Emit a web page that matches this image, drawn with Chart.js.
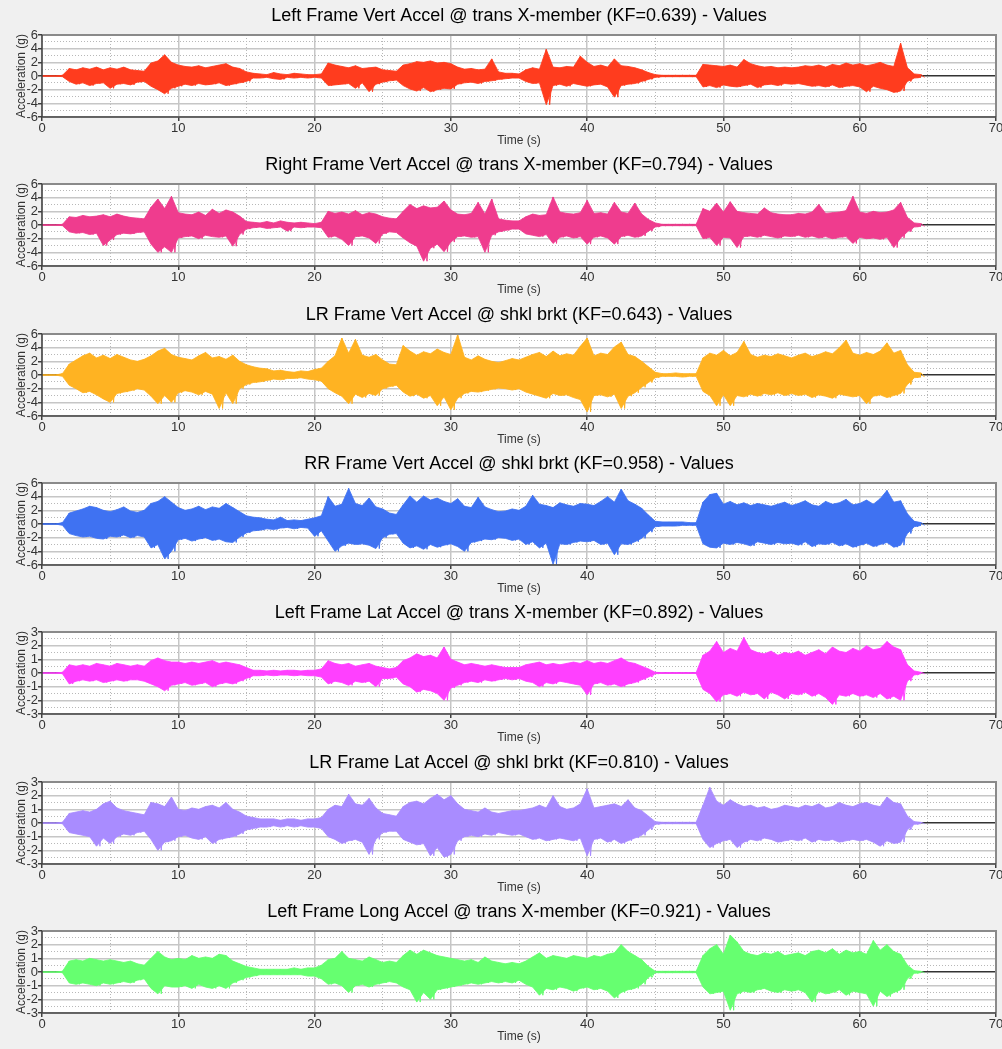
<!DOCTYPE html>
<html>
<head>
<meta charset="utf-8">
<script src="https://cdn.jsdelivr.net/npm/chart.js@4.4.1/dist/chart.umd.min.js"></script>
<style>
  html, body { margin: 0; padding: 0; background: #f0f0f0; overflow: hidden; }
  #panels { position: relative; width: 1002px; height: 1049px; }
  .panel { position: absolute; left: 0; width: 1002px; height: 150px; }
  .panel canvas { display: block; }
</style>
</head>
<body>
<div id="panels"></div>
<script>
// Peak readings every 0.5 s from t = 0: max (hi) and min (lo) of each window, in g
const STEP = 0.5;

const lfVertHi = [
  0, 0, 0, 0.1, 1.1, 0.9, 1.2, 1.0, 1.3, 0.9,
  1.2, 1.0, 1.3, 0.9, 0.8, 0.7, 1.9, 2.2, 3.1, 2.0,
  1.6, 1.4, 1.3, 1.5, 1.2, 1.4, 1.6, 1.8, 1.3, 1.1,
  0.6, 0.4, 0.3, 0.2, 0.5, 0.3, 0.2, 0.4, 0.3, 0.2,
  0.2, 0.3, 1.9, 1.6, 1.4, 1.2, 1.5, 1.1, 1.2, 1.3,
  0.9, 0.8, 0.7, 1.6, 1.8, 2.1, 2.0, 2.2, 1.9, 2.0,
  1.8, 1.3, 1.0, 1.1, 0.9, 1.0, 2.5, 0.6, 0.4, 0.4,
  0.3, 0.9, 1.2, 1.0, 3.9, 1.3, 1.2, 1.4, 1.3, 2.9,
  2.0, 1.4, 1.6, 1.3, 2.5, 1.5, 1.4, 1.2, 0.9, 0.5,
  0.2, 0.1, 0.1, 0.1, 0.1, 0.1, 0.1, 1.7, 1.6, 1.5,
  1.4, 1.6, 1.3, 2.4, 1.8, 1.5, 1.3, 1.4, 1.2, 1.3,
  1.2, 1.3, 1.5, 1.4, 1.6, 1.3, 1.7, 1.5, 1.9, 1.6,
  1.8, 1.5, 1.7, 2.0, 1.6, 1.4, 4.8, 1.2, 0.3, 0.2
];
const lfVertLo = [
  0, 0, 0, -0.1, -0.8, -1.2, -1.0, -1.4, -1.1, -1.0,
  -1.8, -1.2, -1.1, -1.3, -0.9, -0.8, -1.5, -2.0, -2.6, -1.8,
  -1.5, -1.2, -1.4, -1.1, -1.3, -1.2, -1.0, -1.4, -1.2, -1.0,
  -0.8, -0.3, -0.3, -0.2, -0.4, -0.5, -0.2, -0.3, -0.2, -0.3,
  -0.2, -0.3, -1.4, -1.3, -1.2, -1.1, -1.8, -1.0, -2.3, -1.2,
  -0.9, -0.7, -0.6, -1.4, -1.9, -2.2, -1.7, -2.3, -2.0, -1.8,
  -1.9, -1.2, -1.0, -0.9, -1.1, -0.8, -0.7, -0.5, -0.4, -0.3,
  -0.3, -0.8, -1.1, -1.0, -4.2, -1.4, -1.2, -1.5, -1.1, -1.3,
  -1.5, -1.3, -1.2, -1.6, -3.1, -1.4, -1.2, -1.1, -0.8, -0.5,
  -0.2, -0.1, -0.1, -0.1, -0.1, -0.1, -0.1, -1.6, -1.4, -1.7,
  -1.3, -1.5, -1.6, -1.4, -1.2, -1.7, -1.3, -1.2, -1.4, -1.1,
  -1.2, -1.1, -1.3, -1.5, -1.4, -1.6, -1.3, -1.7, -1.5, -1.4,
  -1.6, -2.3, -1.5, -1.8, -2.0, -2.4, -2.2, -0.8, -0.3, -0.2
];

const rfVertHi = [
  0, 0, 0, 0.1, 1.2, 1.1, 1.4, 1.2, 1.3, 1.5,
  1.2, 1.6, 1.3, 1.1, 1.0, 0.9, 2.6, 3.8, 2.4, 4.2,
  1.8, 1.6, 1.5, 1.9, 1.4, 2.3, 1.7, 2.2, 1.9, 1.3,
  0.5, 0.4, 0.3, 0.5, 0.3, 0.6, 0.4, 0.3, 0.4, 0.3,
  0.2, 0.4, 2.0, 1.7, 1.9, 1.6, 2.1, 1.5, 1.8, 1.6,
  1.2, 1.0, 0.9, 2.0, 3.0, 2.4, 2.8, 2.5, 2.6, 3.5,
  2.2, 1.6, 1.5, 1.7, 3.3, 1.6, 3.8, 0.9, 0.7, 0.6,
  0.6, 1.2, 1.6, 1.4, 1.5, 4.1, 1.9, 1.7, 1.6, 1.8,
  3.6, 1.7, 1.8, 1.6, 3.3, 1.9, 1.7, 3.2, 1.6, 0.8,
  0.3, 0.1, 0.1, 0.1, 0.1, 0.1, 0.1, 2.4, 2.0, 3.2,
  1.9, 3.4, 2.0, 1.8, 1.7, 1.6, 2.5, 1.8, 1.6, 1.5,
  1.5, 1.7, 1.6, 1.9, 3.0, 1.7, 1.8, 1.9, 2.1, 4.2,
  1.9, 1.7, 2.0, 1.8, 1.9, 2.2, 3.3, 1.1, 0.3, 0.2
];
const rfVertLo = [
  0, 0, 0, -0.1, -1.0, -1.2, -1.1, -1.4, -1.2, -3.0,
  -2.2, -1.4, -1.2, -1.3, -1.1, -1.0, -2.8, -4.0, -3.2, -4.0,
  -1.9, -1.7, -1.6, -2.0, -1.5, -1.7, -1.8, -1.6, -3.1, -1.4,
  -0.6, -0.4, -0.3, -0.5, -0.4, -0.3, -0.9, -0.3, -0.4, -0.3,
  -0.3, -0.4, -1.8, -1.6, -2.1, -3.0, -1.7, -1.6, -1.9, -2.7,
  -1.3, -1.0, -1.1, -1.9, -2.6, -3.1, -5.3, -3.4, -2.8, -3.9,
  -2.5, -1.7, -1.6, -1.8, -1.7, -4.0, -1.5, -1.0, -0.8, -0.6,
  -0.6, -1.3, -1.5, -1.7, -1.4, -2.7, -1.8, -1.6, -1.9, -1.7,
  -2.8, -1.8, -1.6, -1.9, -2.8, -1.7, -1.5, -1.8, -1.6, -0.9,
  -0.3, -0.1, -0.1, -0.1, -0.1, -0.1, -0.1, -2.0, -1.8, -3.0,
  -1.8, -1.9, -3.3, -1.7, -1.6, -1.8, -1.5, -1.7, -1.9, -1.6,
  -1.7, -1.5, -1.8, -1.6, -1.9, -1.7, -2.0, -1.8, -1.7, -2.7,
  -1.8, -2.0, -1.9, -2.1, -1.8, -3.3, -1.9, -1.0, -0.3, -0.2
];

const lrVertHi = [
  0, 0, 0, 0.2, 1.6, 2.2, 2.8, 3.2, 2.5, 2.9,
  2.4, 3.0, 2.6, 2.2, 2.0, 2.3, 2.8, 3.5, 3.9, 3.0,
  2.6, 2.4, 2.2, 2.8, 3.3, 2.5, 2.7, 2.3, 2.9, 2.0,
  1.5, 1.2, 1.0, 0.9, 0.6, 0.7, 0.5, 0.4, 0.6, 0.5,
  0.8, 1.0, 2.0, 2.8, 5.4, 3.2, 5.2, 2.9, 2.6, 3.0,
  2.2, 1.6, 1.5, 4.3, 3.5, 2.9, 3.4, 3.1, 3.8, 3.3,
  3.0, 5.9, 2.6, 2.2, 2.8, 2.3, 2.0, 1.8, 2.1, 2.4,
  2.2, 2.6, 3.0, 3.3, 2.7, 3.5, 2.8, 3.1, 2.9, 4.2,
  5.4, 2.8, 3.2, 3.0, 4.1, 4.8, 3.0, 2.7, 2.0, 1.2,
  0.4, 0.2, 0.2, 0.3, 0.2, 0.2, 0.2, 2.5, 3.2, 2.9,
  3.6, 2.8, 3.3, 4.9, 3.0, 2.6, 2.9, 2.7, 3.1, 2.8,
  2.5, 2.9, 3.2, 2.7, 3.0, 3.4, 3.1, 4.0, 5.1, 3.2,
  2.9, 3.3, 3.0, 3.5, 4.7, 3.2, 3.6, 1.5, 0.4, 0.3
];
const lrVertLo = [
  0, 0, 0, -0.2, -1.5, -2.0, -2.6, -2.4, -2.9, -3.5,
  -4.0, -2.7, -2.5, -2.3, -2.0, -2.2, -3.1, -4.2, -3.0, -4.0,
  -2.6, -2.3, -2.5, -2.9, -2.4, -2.8, -4.9, -2.6, -4.2, -2.0,
  -1.4, -1.1, -1.0, -0.8, -0.6, -0.7, -0.5, -0.5, -0.4, -0.6,
  -0.7, -0.9, -2.0, -2.6, -3.1, -4.2, -2.8, -3.3, -2.7, -3.0,
  -2.0, -1.7, -1.5, -2.5, -3.1, -2.8, -3.4, -3.0, -4.5, -3.2,
  -5.1, -3.4, -2.7, -2.4, -2.5, -2.3, -2.1, -1.9, -2.0, -2.2,
  -2.0, -2.5, -2.8, -3.1, -3.4, -2.7, -3.0, -2.9, -3.3, -3.6,
  -5.4, -3.0, -2.9, -3.2, -2.8, -4.9, -3.1, -2.6, -1.8, -1.1,
  -0.4, -0.2, -0.2, -0.2, -0.3, -0.2, -0.2, -2.4, -3.0, -4.5,
  -2.9, -4.5, -3.0, -3.2, -2.8, -3.1, -2.7, -2.9, -2.6, -3.0,
  -2.7, -3.0, -2.8, -3.3, -2.9, -3.1, -3.4, -2.8, -3.0, -3.2,
  -3.0, -4.2, -3.1, -2.9, -3.3, -3.0, -2.7, -1.4, -0.4, -0.3
];

const rrVertHi = [
  0, 0, 0, 0.2, 1.6, 1.9, 2.2, 2.6, 2.4, 2.0,
  1.8, 2.1, 2.5, 1.9, 1.7, 2.0, 3.0, 3.3, 4.0, 3.2,
  2.4, 2.0, 2.2, 2.6, 2.1, 2.5, 2.3, 3.0, 2.4, 1.8,
  1.2, 1.0, 0.9, 0.7, 0.6, 1.0, 0.5, 0.6, 0.5, 0.7,
  0.9, 1.2, 4.0, 2.6, 2.9, 5.2, 3.0, 2.7, 3.8, 2.5,
  2.2, 1.6, 1.4, 2.8, 4.1, 3.2, 4.1, 3.5, 3.8, 3.3,
  3.0, 3.7, 2.6, 2.4, 3.9, 2.5, 2.1, 1.8, 1.9, 2.2,
  2.0, 2.6, 4.2, 2.9, 2.7, 2.4, 3.1, 2.8, 2.6, 3.0,
  2.9, 2.7, 3.3, 4.0, 3.2, 5.1, 3.4, 2.9, 2.3, 1.3,
  0.4, 0.3, 0.3, 0.3, 0.3, 0.2, 0.2, 3.2, 4.3, 4.5,
  2.9, 3.3, 2.8, 3.1, 2.7, 3.0, 2.8, 2.6, 2.9, 3.2,
  2.7, 3.0, 3.4, 2.8, 2.6, 3.3, 2.9, 3.1, 3.6, 2.8,
  3.0, 3.5, 2.9, 3.7, 4.9, 3.2, 3.4, 1.5, 0.4, 0.2
];
const rrVertLo = [
  0, 0, 0, -0.2, -1.4, -1.7, -1.9, -1.8, -2.1, -2.2,
  -1.8, -1.9, -1.6, -2.0, -1.7, -1.9, -3.5, -3.0, -5.1, -4.0,
  -2.3, -2.1, -2.5, -2.2, -2.0, -2.4, -2.2, -2.6, -2.7, -1.9,
  -1.3, -1.0, -0.9, -0.7, -0.8, -0.6, -0.5, -0.7, -0.5, -0.6,
  -1.8, -1.0, -2.5, -4.0, -3.2, -2.8, -3.0, -2.9, -3.1, -3.6,
  -2.0, -1.5, -1.4, -2.8, -3.5, -3.2, -3.7, -3.0, -3.4, -3.1,
  -2.9, -3.3, -4.0, -2.7, -2.5, -2.2, -2.3, -2.0, -2.1, -2.4,
  -2.2, -3.0, -2.6, -3.5, -2.8, -5.9, -2.9, -3.0, -2.7, -2.5,
  -2.6, -2.4, -3.0, -2.8, -4.5, -2.9, -3.0, -2.6, -2.1, -1.2,
  -0.4, -0.3, -0.3, -0.3, -0.2, -0.2, -0.2, -2.9, -3.4, -3.5,
  -2.8, -3.0, -2.7, -2.9, -3.2, -2.6, -2.8, -3.0, -2.7, -2.9,
  -2.8, -3.1, -2.6, -3.3, -2.9, -3.0, -2.7, -3.2, -2.9, -3.4,
  -3.1, -2.8, -3.3, -3.0, -2.7, -3.4, -3.1, -1.4, -0.4, -0.2
];

const lfLatHi = [
  0, 0, 0, 0.05, 0.6, 0.5, 0.6, 0.5, 0.7, 0.6,
  0.5, 0.7, 0.6, 0.5, 0.6, 0.5, 0.9, 1.1, 0.9, 0.8,
  0.8, 0.7, 0.8, 0.7, 0.8, 0.9, 0.7, 0.8, 0.7, 0.6,
  0.4, 0.2, 0.2, 0.15, 0.2, 0.15, 0.2, 0.2, 0.15, 0.2,
  0.2, 0.3, 0.9, 0.7, 0.6, 0.7, 0.5, 0.6, 0.7, 0.5,
  0.4, 0.3, 0.4, 0.9, 1.1, 1.4, 1.2, 1.3, 1.1, 1.9,
  1.0, 0.8, 0.6, 0.7, 0.6, 0.5, 0.6, 0.5, 0.4, 0.4,
  0.4, 0.6, 0.7, 0.8, 0.6, 0.7, 0.6, 0.7, 0.8, 0.7,
  0.9, 0.7, 0.8, 0.7, 0.9, 1.1, 0.8, 0.7, 0.5, 0.3,
  0.05, 0.03, 0.03, 0.03, 0.03, 0.03, 0.03, 1.3, 1.6, 2.3,
  1.5, 1.8, 1.6, 2.6, 1.7, 1.5, 1.4, 1.6, 1.3, 1.5,
  1.4, 1.6, 1.3, 1.5, 1.7, 1.4, 1.9, 1.6, 1.5, 1.8,
  1.6, 2.0, 1.7, 1.8, 2.3, 1.9, 1.7, 0.6, 0.15, 0.05
];
const lfLatLo = [
  0, 0, 0, -0.05, -0.8, -0.6, -0.5, -0.6, -0.5, -0.7,
  -0.6, -0.5, -0.6, -0.5, -0.5, -0.6, -0.8, -1.0, -1.3, -0.9,
  -0.8, -0.7, -0.9, -0.8, -0.7, -1.0, -0.8, -0.7, -0.8, -0.6,
  -0.4, -0.2, -0.2, -0.15, -0.2, -0.15, -0.15, -0.2, -0.15, -0.2,
  -0.2, -0.3, -0.8, -0.6, -0.7, -0.9, -0.6, -0.7, -0.6, -1.0,
  -0.4, -0.4, -0.3, -0.8, -1.0, -1.4, -1.2, -1.3, -1.5, -2.0,
  -1.1, -0.9, -0.7, -0.6, -0.7, -0.5, -0.6, -0.5, -0.4, -0.5,
  -0.4, -0.6, -0.7, -1.0, -0.7, -0.8, -0.6, -0.7, -0.8, -0.9,
  -1.6, -0.8, -0.7, -0.9, -0.8, -1.0, -0.8, -0.7, -0.5, -0.3,
  -0.05, -0.03, -0.03, -0.03, -0.03, -0.03, -0.03, -1.2, -1.5, -2.1,
  -1.6, -1.5, -1.7, -1.4, -1.6, -1.5, -1.9, -1.4, -1.6, -1.9,
  -1.5, -1.6, -1.4, -1.7, -1.5, -1.8, -2.3, -1.6, -1.7, -1.5,
  -1.7, -1.6, -1.8, -1.5, -1.9, -1.7, -2.0, -0.6, -0.15, -0.05
];

const lrLatHi = [
  0, 0, 0, 0.05, 0.7, 0.8, 0.9, 0.8, 1.0, 1.4,
  1.6, 1.1, 0.9, 0.8, 0.7, 0.6, 1.5, 1.4, 1.2, 1.9,
  1.0, 0.9, 1.1, 1.0, 1.2, 1.3, 1.1, 1.5, 1.0, 0.8,
  0.5, 0.4, 0.3, 0.3, 0.3, 0.2, 0.3, 0.3, 0.2, 0.3,
  0.3, 0.4, 1.0, 1.3, 1.2, 2.1, 1.4, 1.3, 1.8, 1.1,
  0.7, 0.6, 0.5, 1.2, 1.5, 1.6, 1.4, 1.8, 2.1, 1.7,
  2.0, 1.4, 1.0, 0.9, 0.8, 1.1, 0.8, 0.7, 0.8, 0.9,
  0.9, 1.0, 1.1, 1.3, 1.1, 2.0, 1.2, 1.0, 1.1, 1.4,
  2.5, 1.1, 1.2, 1.3, 1.4, 1.2, 1.7, 1.1, 0.9, 0.5,
  0.1, 0.05, 0.05, 0.05, 0.05, 0.05, 0.05, 1.3, 2.6, 1.6,
  1.3, 1.7, 1.4, 1.2, 1.3, 1.1, 1.2, 1.0, 1.1, 1.3,
  1.2, 1.1, 1.3, 1.2, 1.4, 1.1, 1.2, 1.5, 1.3, 1.2,
  1.4, 1.5, 1.3, 1.2, 1.9, 1.5, 1.4, 0.5, 0.1, 0.05
];
const lrLatLo = [
  0, 0, 0, -0.05, -0.7, -0.8, -0.9, -1.0, -1.7, -1.1,
  -1.5, -1.0, -0.8, -0.9, -0.7, -0.6, -1.2, -2.0, -1.4, -1.3,
  -1.0, -0.9, -1.1, -1.2, -1.0, -1.5, -1.2, -1.1, -1.0, -0.8,
  -0.5, -0.4, -0.3, -0.3, -0.2, -0.3, -0.2, -0.3, -0.2, -0.3,
  -0.3, -0.4, -1.0, -1.2, -1.5, -1.3, -1.2, -1.4, -2.3, -1.2,
  -0.7, -0.6, -0.6, -1.2, -1.4, -1.6, -1.5, -2.4, -1.8, -2.5,
  -2.3, -1.3, -1.0, -0.9, -1.0, -0.8, -0.9, -0.7, -0.8, -0.9,
  -0.8, -1.0, -1.2, -1.1, -1.3, -1.2, -1.1, -1.2, -1.3, -1.1,
  -2.4, -1.2, -1.1, -1.4, -1.2, -1.5, -1.3, -1.1, -0.9, -0.5,
  -0.1, -0.05, -0.05, -0.05, -0.05, -0.05, -0.05, -1.2, -1.8, -1.5,
  -1.3, -1.2, -1.8, -1.4, -1.2, -1.3, -1.1, -1.2, -1.4, -1.3,
  -1.2, -1.3, -1.1, -1.4, -1.2, -1.3, -1.2, -1.4, -1.3, -1.2,
  -1.3, -1.2, -1.4, -1.7, -1.3, -1.5, -1.4, -0.5, -0.1, -0.05
];

const lfLongHi = [
  0, 0, 0, 0.05, 0.8, 0.9, 0.8, 1.0, 0.9, 0.8,
  0.9, 0.8, 0.7, 0.8, 0.6, 0.5, 1.0, 1.5, 1.1, 0.9,
  1.0, 0.9, 1.2, 1.0, 1.1, 1.0, 1.3, 1.2, 0.8, 0.6,
  0.4, 0.3, 0.2, 0.2, 0.2, 0.2, 0.2, 0.3, 0.2, 0.3,
  0.3, 0.5, 0.9, 1.0, 1.5, 1.0, 0.9, 0.8, 1.1, 0.9,
  0.7, 0.8, 0.7, 1.2, 1.6, 1.3, 1.6, 1.4, 1.2, 1.1,
  1.0, 0.9, 0.8, 0.9, 0.7, 1.1, 0.8, 0.7, 0.6, 0.7,
  0.6, 0.8, 1.1, 1.4, 1.0, 1.2, 1.1, 1.0, 1.2, 1.1,
  1.0, 1.2, 1.1, 1.3, 1.4, 2.0, 1.5, 1.2, 0.9, 0.4,
  0.05, 0.05, 0.05, 0.05, 0.05, 0.05, 0.05, 1.2, 1.7, 2.0,
  1.3, 2.7, 2.2, 1.5, 1.3, 1.2, 1.4, 1.3, 1.5, 1.2,
  1.3, 1.4, 1.2, 1.5, 1.6, 1.4, 1.7, 1.3, 1.6, 1.4,
  1.5, 1.3, 2.3, 1.6, 2.0, 1.5, 1.3, 0.5, 0.1, 0.05
];
const lfLongLo = [
  0, 0, 0, -0.05, -0.8, -0.9, -0.8, -0.9, -1.0, -0.8,
  -0.9, -0.8, -0.7, -0.8, -0.6, -0.5, -1.2, -1.6, -1.0, -1.1,
  -1.1, -1.0, -1.2, -0.9, -1.1, -1.2, -1.0, -1.2, -0.8, -0.6,
  -0.4, -0.3, -0.2, -0.2, -0.2, -0.2, -0.2, -0.2, -0.2, -0.3,
  -0.3, -0.5, -0.9, -0.8, -1.0, -1.5, -1.0, -0.9, -1.1, -0.9,
  -0.8, -0.7, -0.8, -1.1, -1.3, -2.2, -1.5, -2.0, -1.3, -1.2,
  -1.1, -1.0, -0.9, -0.8, -0.9, -0.8, -0.7, -0.8, -0.7, -0.8,
  -0.6, -0.9, -1.1, -1.7, -1.2, -1.3, -1.1, -1.2, -1.4, -1.2,
  -1.1, -1.3, -1.2, -1.4, -1.9, -1.5, -1.3, -1.2, -0.9, -0.4,
  -0.05, -0.05, -0.05, -0.05, -0.05, -0.05, -0.05, -1.1, -1.6, -1.5,
  -1.4, -2.8, -1.6, -1.4, -1.5, -1.3, -1.2, -1.4, -1.5, -1.3,
  -1.4, -1.3, -1.5, -2.2, -1.4, -1.6, -1.5, -1.3, -1.7, -1.4,
  -1.5, -1.6, -2.5, -1.4, -1.8, -1.5, -1.3, -0.5, -0.1, -0.05
];

const titles = [
  "Left Frame Vert Accel @ trans X-member (KF=0.639) - Values",
  "Right Frame Vert Accel @ trans X-member (KF=0.794) - Values",
  "LR Frame Vert Accel @ shkl brkt (KF=0.643) - Values",
  "RR Frame Vert Accel @ shkl brkt (KF=0.958) - Values",
  "Left Frame Lat Accel @ trans X-member (KF=0.892) - Values",
  "LR Frame Lat Accel @ shkl brkt (KF=0.810) - Values",
  "Left Frame Long Accel @ trans X-member (KF=0.921) - Values"
];
const colors = ["#ff3c1e", "#ef3c8e", "#ffb322", "#3f72f2", "#ff40ff", "#a98cff", "#66ff70"];
const yLimits = [6, 6, 6, 6, 3, 3, 3];
const highs = [lfVertHi, rfVertHi, lrVertHi, rrVertHi, lfLatHi, lrLatHi, lfLongHi];
const lows = [lfVertLo, rfVertLo, lrVertLo, rrVertLo, lfLatLo, lrLatLo, lfLongLo];

const FONT = "'Liberation Sans', Arial, sans-serif";

// one point per reading, all at the window start
function toPoints(vals) {
  return vals.map((v, i) => ({ x: i * STEP, y: v }));
}

// alternate max/min readings so the trace swings like the raw signal
function zigzag(hi, lo) {
  const pts = [];
  for (let i = 0; i < hi.length; i++) {
    pts.push({ x: i * STEP, y: hi[i] });
    pts.push({ x: i * STEP + STEP / 2, y: lo[i] });
  }
  return pts;
}

function withAlpha(hex, a) {
  const n = parseInt(hex.slice(1), 16);
  return `rgba(${(n >> 16) & 255}, ${(n >> 8) & 255}, ${n & 255}, ${a})`;
}

// white plot area and the dark frame round it
const framePlugin = {
  id: "frame",
  beforeDraw(chart) {
    const { ctx, chartArea: a } = chart;
    ctx.save();
    ctx.fillStyle = "#ffffff";
    ctx.fillRect(a.left, a.top, a.right - a.left, a.bottom - a.top);
    ctx.restore();
  },
  afterDraw(chart) {
    const { ctx, chartArea: a } = chart;
    ctx.save();
    ctx.strokeStyle = "#8a8a8a";
    ctx.lineWidth = 2;
    ctx.beginPath();
    ctx.moveTo(a.left, a.top);
    ctx.lineTo(a.right, a.top);
    ctx.lineTo(a.right, a.bottom);
    ctx.stroke();
    ctx.strokeStyle = "#404040";
    ctx.lineWidth = 1.5;
    ctx.beginPath();
    ctx.moveTo(a.left, a.top);
    ctx.lineTo(a.left, a.bottom);
    ctx.lineTo(a.right, a.bottom);
    ctx.stroke();
    ctx.restore();
  }
};

const holder = document.getElementById("panels");

titles.forEach((title, i) => {
  const lim = yLimits[i];
  const minorStep = lim === 6 ? 1 : 0.5;
  const majorStep = lim === 6 ? 2 : 1;
  const isMajorY = v => Math.abs(v / majorStep - Math.round(v / majorStep)) < 1e-6;
  const isMajorX = v => v % 10 === 0;
  const color = colors[i];

  const div = document.createElement("div");
  div.className = "panel";
  div.style.top = Math.round(i * 149.3) + "px";
  const canvas = document.createElement("canvas");
  canvas.width = 1002;
  canvas.height = 150;
  div.appendChild(canvas);
  holder.appendChild(div);

  new Chart(canvas, {
    type: "line",
    data: {
      datasets: [
        {
          // upper envelope
          data: toPoints(highs[i]),
          borderColor: withAlpha(color, 0.85),
          borderWidth: 1,
          pointRadius: 0,
          tension: 0,
          fill: false
        },
        {
          // lower envelope, shaded up to the upper one
          data: toPoints(lows[i]),
          borderColor: withAlpha(color, 0.85),
          backgroundColor: color,
          borderWidth: 1,
          pointRadius: 0,
          tension: 0,
          fill: "-1"
        },
        {
          // swing between the readings
          data: zigzag(highs[i], lows[i]),
          borderColor: color,
          borderWidth: 1,
          pointRadius: 0,
          tension: 0,
          fill: false
        }
      ]
    },
    options: {
      responsive: false,
      devicePixelRatio: 1,
      animation: false,
      parsing: false,
      layout: { padding: { left: 0, right: 6, top: 0, bottom: 0 } },
      plugins: {
        legend: { display: false },
        tooltip: { enabled: false },
        title: {
          display: true,
          fullSize: false,
          text: title,
          color: "#000000",
          font: { family: FONT, size: 18, weight: "normal" },
          padding: { top: 5, bottom: 8.4 }
        }
      },
      scales: {
        x: {
          type: "linear",
          min: 0,
          max: 70,
          afterFit(scale) {
            scale.height = 33;
            scale.paddingLeft = 0;
            scale.paddingRight = 0;
          },
          ticks: {
            stepSize: 5,
            autoSkip: false,
            maxRotation: 0,
            padding: 0,
            color: "#333333",
            font: { family: FONT, size: 13 },
            callback: v => (isMajorX(v) ? String(v) : "")
          },
          grid: {
            color: ctx => (isMajorX(ctx.tick.value) ? "#c6c6c6" : "#b8b8b8"),
            lineWidth: ctx => (isMajorX(ctx.tick.value) ? 1.5 : 1),
            tickLength: 4,
            tickColor: ctx => (isMajorX(ctx.tick.value) ? "#404040" : "rgba(0,0,0,0)")
          },
          border: {
            display: false,
            dash: ctx => (ctx.tick && !isMajorX(ctx.tick.value) ? [1, 2] : [])
          },
          title: {
            display: true,
            text: "Time (s)",
            color: "#333333",
            font: { family: FONT, size: 12 },
            padding: { top: 0, bottom: 2 }
          }
        },
        y: {
          min: -lim,
          max: lim,
          afterFit(scale) {
            scale.width = 42;
            scale.paddingTop = 0;
            scale.paddingBottom = 0;
          },
          ticks: {
            stepSize: minorStep,
            autoSkip: false,
            padding: 0,
            color: "#333333",
            font: { family: FONT, size: 13 },
            callback: v => (isMajorY(v) ? String(Math.round(v)) : "")
          },
          grid: {
            color: ctx => {
              const v = ctx.tick.value;
              if (Math.abs(v) < 1e-6) return "#333333";
              return isMajorY(v) ? "#c6c6c6" : "#b8b8b8";
            },
            lineWidth: ctx => (isMajorY(ctx.tick.value) ? 1.5 : 1),
            tickLength: 4,
            tickColor: ctx => (isMajorY(ctx.tick.value) ? "#404040" : "rgba(0,0,0,0)")
          },
          border: {
            display: false,
            dash: ctx => (ctx.tick && !isMajorY(ctx.tick.value) ? [1, 2] : [])
          },
          title: {
            display: true,
            text: "Acceleration (g)",
            color: "#333333",
            font: { family: FONT, size: 12 },
            padding: { top: 14, bottom: 0 }
          }
        }
      }
    },
    plugins: [framePlugin]
  });
});
</script>
</body>
</html>
